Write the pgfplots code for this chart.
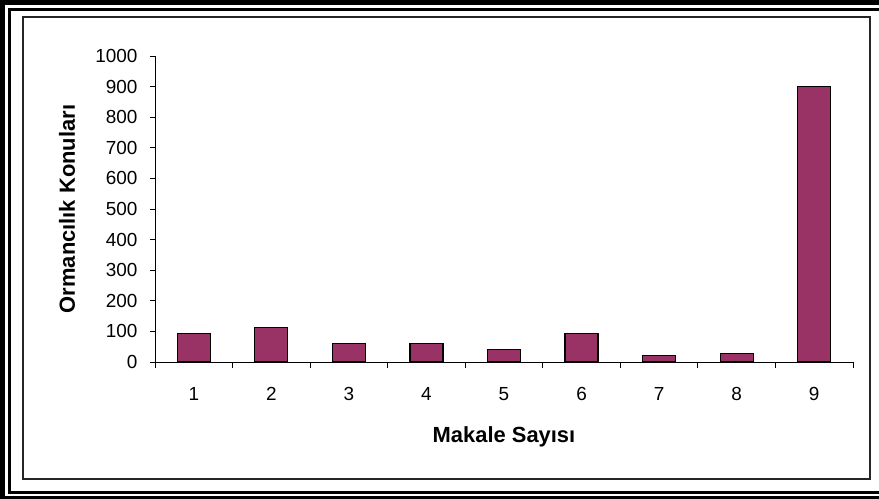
\documentclass[border=0pt]{standalone}
\usepackage{pgfplots}
\pgfplotsset{compat=1.18}
\usepackage{fontspec}
\setmainfont{Liberation Sans}
\definecolor{plum}{HTML}{993366}
\begin{document}
\begin{tikzpicture}[x=1bp,y=1bp]
\useasboundingbox (0,0) rectangle (879,499);
% double frame (image y -> 499 - y)
\fill[black] (0,0) rectangle (5,499);
\fill[black] (0,494) rectangle (879,499);
\fill[black] (0,0) rectangle (879,2.5);
\fill[black] (8,5) rectangle (11,491);
\fill[black] (8,488) rectangle (879,491);
\fill[black] (8,5) rectangle (879,7.5);
\draw[line width=1.2bp, black!85] (23,20) rectangle (870,482);
\begin{axis}[
  at={(155bp,137bp)}, anchor=south west,
  scale only axis, width=698bp, height=306bp,
  xmin=0.5, xmax=9.5, ymin=0, ymax=1000,
  axis x line*=bottom, axis y line*=left,
  axis line style={line width=0.8bp, black},
  /pgf/number format/assume math mode=true,
  /pgf/number format/1000 sep={},
  ytick={0,100,...,1000},
  xtick={1,...,9},
  minor xtick={0.5,1.5,...,9.5},
  major x tick style={draw=none},
  tick align=outside,
  major tick length=5bp, minor tick length=6bp,
  tick style={line width=0.8bp, black},
  ticklabel style={font=\fontsize{19}{22}\selectfont},
  yticklabel style={xshift=-9bp},
  xticklabel style={yshift=-17bp},
  xlabel={Makale Sayısı},
  ylabel={Ormancılık Konuları},
  every axis y label/.style={at={(axis description cs:0,0.5)}, rotate=90, anchor=center, yshift=88bp, font=\fontsize{22}{26}\selectfont\bfseries},
  every axis x label/.style={at={(axis description cs:0.5,0)}, anchor=base, yshift=-81bp, font=\fontsize{22}{26}\selectfont\bfseries},
]
\addplot[ybar, bar width=33bp, fill=plum, draw=black, line width=1.3bp]
  coordinates {(1,93) (2,113) (3,61) (4,61) (5,40) (6,93) (7,21) (8,28) (9,900)};
\end{axis}
\end{tikzpicture}
\end{document}
